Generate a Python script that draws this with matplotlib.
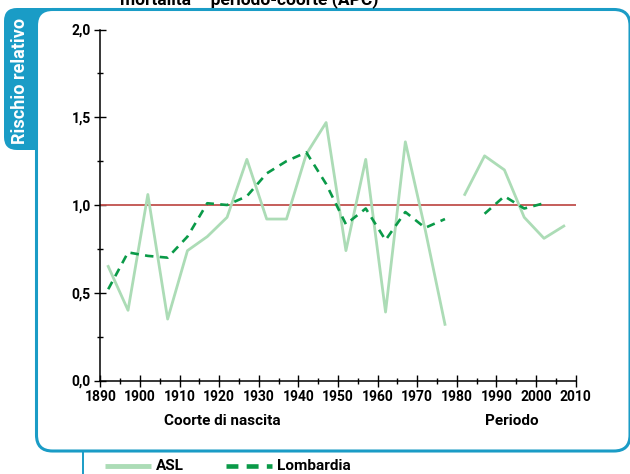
import numpy as np
import matplotlib
matplotlib.use("Agg")
import matplotlib.pyplot as plt
from matplotlib.patches import FancyBboxPatch

# ---- data ----
cohort_years = [1892, 1897, 1902, 1907, 1912, 1917, 1922, 1927, 1932, 1937,
                1942, 1947, 1952, 1957, 1962, 1967, 1972, 1977]
asl_cohort = [0.65, 0.40, 1.06, 0.35, 0.74, 0.82, 0.93, 1.26, 0.92, 0.92,
              1.29, 1.47, 0.74, 1.26, 0.39, 1.36, 0.86, 0.32]
lomb_cohort = [0.52, 0.73, 0.71, 0.70, 0.82, 1.01, 1.00, 1.05, 1.18, 1.25,
               1.30, 1.12, 0.89, 0.98, 0.80, 0.96, 0.87, 0.92]
period_years = [1982, 1987, 1992, 1997, 2002, 2007]
asl_period = [1.06, 1.28, 1.20, 0.93, 0.81, 0.88]
lomb_period = [np.nan, 0.95, 1.05, 0.98, 1.01, np.nan]
x_ticks = list(range(1890, 2011, 10))
y_ticks = [0.0, 0.5, 1.0, 1.5, 2.0]
y_tick_labels = ["0,0", "0,5", "1,0", "1,5", "2,0"]

BLUE = "#1a9cc6"
ASL_C = "#acdcb6"
LOMB_C = "#0a9a48"
RED = "#c0504d"
FONT = ["Roboto", "DejaVu Sans"]

W, H = 630, 474
fig = plt.figure(figsize=(W / 100, H / 100), dpi=100)

# overlay in pixel coordinates
bg = fig.add_axes([0, 0, 1, 1])
bg.set_xlim(0, W)
bg.set_ylim(H, 0)
bg.axis("off")

tab = FancyBboxPatch((4, 8), 60, 142, boxstyle="round,pad=0,rounding_size=13",
                     facecolor=BLUE, edgecolor="none", zorder=1)
bg.add_patch(tab)
frame = FancyBboxPatch((36.5, 9.5), 593.5, 441.5, boxstyle="round,pad=0,rounding_size=16",
                       facecolor="white", edgecolor=BLUE, linewidth=2.2, zorder=2)
bg.add_patch(frame)
bg.text(20.5, 81, "Rischio relativo", rotation=90, color="white", fontsize=13,
        fontweight="bold", family=FONT, ha="center", va="center", zorder=3)
bg.plot([83, 83], [452, 474], color=BLUE, lw=1.4, zorder=3)

# title (cut off at top, as in the source)
bg.text(120, 4, "mortalità – periodo-coorte (APC)", fontsize=12.5, fontweight="bold",
        family=FONT, ha="left", va="baseline", color="black", zorder=3)

# axis labels
bg.text(222, 421, "Coorte di nascita", fontsize=11, fontweight="bold", family=FONT,
        ha="center", va="center", zorder=3)
bg.text(512, 421, "Periodo", fontsize=11, fontweight="bold", family=FONT,
        ha="center", va="center", zorder=3)

# legend
bg.plot([105, 151], [466, 466], color=ASL_C, lw=3.5, solid_capstyle="butt", zorder=3)
bg.text(156, 466, "ASL", fontsize=11, fontweight="bold", family=FONT,
        ha="left", va="center", zorder=3)
bg.plot([226, 272], [466, 466], color=LOMB_C, lw=3.3, dashes=(2.6, 1.8), zorder=3)
bg.text(277, 466, "Lombardia", fontsize=11, fontweight="bold", family=FONT,
        ha="left", va="center", zorder=3)

# main axes
left, right = 100.3 / W, 575.7 / W
bottom, top = 1 - 380.5 / H, 1 - 29.5 / H
ax = fig.add_axes([left, bottom, right - left, top - bottom])
ax.patch.set_alpha(0)
ax.set_xlim(1890, 2010)
ax.set_ylim(0, 2.0)
for s in ["top", "right"]:
    ax.spines[s].set_visible(False)
for s in ["left", "bottom"]:
    ax.spines[s].set_linewidth(1.1)
    ax.spines[s].set_color("black")

ax.axhline(1.0, color=RED, lw=1.3, zorder=2)
ax.plot(cohort_years, asl_cohort, color=ASL_C, lw=2.0, zorder=3)
ax.plot(period_years, asl_period, color=ASL_C, lw=2.0, zorder=3)
ax.plot(cohort_years, lomb_cohort, color=LOMB_C, lw=1.9, dashes=(3.2, 2.4), zorder=4)
ax.plot(period_years, lomb_period, color=LOMB_C, lw=1.9, dashes=(3.2, 2.4), zorder=4)

ax.set_xticks(x_ticks)
ax.set_xticks(list(range(1895, 2010, 10)), minor=True)
ax.set_xticklabels([str(v) for v in x_ticks])
ax.set_yticks(y_ticks)
ax.set_yticks([0.25, 0.75, 1.25, 1.75], minor=True)
ax.set_yticklabels(y_tick_labels)
ax.tick_params(which="major", direction="inout", length=8, width=1.0, pad=3)
ax.tick_params(which="minor", direction="inout", length=4, width=1.0)
for lab in ax.get_xticklabels() + ax.get_yticklabels():
    lab.set_family(FONT)
    lab.set_fontweight("bold")
    lab.set_fontsize(10)

fig.savefig("out.png", dpi=100)
